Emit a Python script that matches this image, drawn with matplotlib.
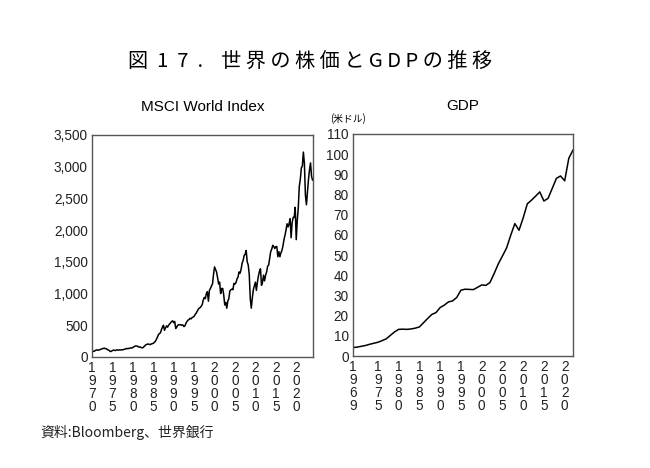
import matplotlib
matplotlib.use("Agg")
import matplotlib.pyplot as plt
import numpy as np

plt.rcParams['font.family'] = ['Liberation Sans', 'Noto Sans CJK JP', 'DejaVu Sans']

# MSCI World Index, quarterly readings from 1970 Q1
msci_start = 1970.0
msci = [
    100, 92, 88, 100,  108, 112, 106, 110,  118, 125, 128, 135,
    140, 132, 130, 118,  110, 100, 85, 90,  100, 110, 105, 102,
    110, 112, 108, 112,  110, 115, 112, 118,  122, 128, 135, 130,
    135, 138, 145, 140,  150, 160, 170, 175,  172, 168, 155, 160,
    150, 145, 148, 165,  180, 195, 200, 205,  200, 195, 205, 210,
    215, 230, 245, 275,  310, 350, 370, 380,  430, 470, 500, 420,
    460, 490, 470, 500,  520, 540, 560, 570,  540, 560, 450, 470,
    500, 510, 505, 510,  500, 505, 480, 490,  530, 560, 580, 590,
    610, 600, 620, 630,  640, 670, 690, 720,  750, 770, 780, 800,
    830, 900, 940, 920,  1000, 1030, 880, 1050,  1080, 1120, 1150, 1300,
    1420, 1380, 1340, 1250,  1150, 1180, 1000, 1080,  1080, 980, 820, 860,
    770, 880, 920, 1040,  1060, 1070, 1060, 1160,  1150, 1170, 1230, 1260,
    1340, 1320, 1380, 1480,  1520, 1600, 1620, 1680,  1500, 1450, 1300, 920,
    770, 930, 1060, 1120,  1180, 1050, 1180, 1280,  1350, 1390, 1130, 1180,
    1290, 1200, 1290, 1340,  1430, 1450, 1560, 1660,  1700, 1760, 1740, 1710,
    1740, 1740, 1580, 1660,  1580, 1640, 1680, 1750,  1850, 1920, 2000, 2100,
    2050, 2100, 2180, 1880,  2120, 2200, 2200, 2360,  1850, 2150, 2350, 2690,
    2800, 2980, 3010, 3230,  3050, 2550, 2400, 2600,  2800, 2950, 3060, 2850,
    2790,
]
msci_ticks = [1970, 1975, 1980, 1985, 1990, 1995, 2000, 2005, 2010, 2015, 2020]

# world GDP (trillion USD), annual
gdp_years = list(range(1969, 2023))
gdp = [
    4.2, 4.4, 4.8, 5.2, 5.8, 6.3, 6.8, 7.6, 8.5, 10.2,
    11.9, 13.2, 13.3, 13.2, 13.4, 13.8, 14.4, 16.5, 18.6, 20.6,
    21.5, 24.0, 25.2, 26.8, 27.3, 29.0, 32.6, 33.1, 33.0, 32.9,
    34.0, 35.2, 35.0, 36.4, 40.8, 45.6, 49.5, 53.5, 59.8, 65.6,
    62.3, 68.4, 75.4, 77.2, 79.2, 81.3, 76.8, 78.1, 83.0, 88.0,
    89.2, 86.8, 98.0, 102.0,
]
gdp_ticks = [1969, 1975, 1980, 1985, 1990, 1995, 2000, 2005, 2010, 2015, 2020]

msci_x = msci_start + np.arange(len(msci)) / 4.0

fig = plt.figure(figsize=(6.5, 4.68), dpi=100)
ax1 = fig.add_axes([0.1415, 0.2372, 0.340, 0.4744])
ax2 = fig.add_axes([0.543, 0.2393, 0.3385, 0.4744])

def vert(y):
    return "\n".join(str(y))

ax1.plot(msci_x, msci, color='black', lw=1.1)
ax1.set_xlim(1970, 2024.1)
ax1.set_ylim(0, 3500)
ax1.set_yticks(range(0, 3501, 500))
ax1.set_yticklabels([f"{v:,}" for v in range(0, 3501, 500)])
ax1.set_xticks(msci_ticks)
ax1.set_xticklabels([vert(y) for y in msci_ticks], linespacing=0.9)
ax1.set_title("MSCI World Index", fontsize=11, pad=17)

ax2.plot(gdp_years, gdp, color='black', lw=1.1)
ax2.set_xlim(1969, 2022)
ax2.set_ylim(0, 110)
ax2.set_yticks(range(0, 111, 10))
ax2.set_xticks(gdp_ticks)
ax2.set_xticklabels([vert(y) for y in gdp_ticks], linespacing=0.9)
ax2.set_title("GDP", fontsize=11, pad=17)
ax2.text(-0.105, 1.045, "(米ドル)", transform=ax2.transAxes, fontsize=7,
         ha='left', va='bottom', family=['Noto Sans CJK JP'])

for ax in (ax1, ax2):
    ax.tick_params(length=0, labelsize=9.8, colors='#222', pad=3)
    for s in ax.spines.values():
        s.set_color('#555')
        s.set_linewidth(1.0)

fig.text(0.477, 0.868, "図  1  7  .    " + " ".join("世界の株価とGDPの推移"),
         ha='center', va='center', fontsize=14.5,
         family=['Noto Sans CJK JP', 'DejaVu Sans'])
fig.text(0.062, 0.075, "資料:Bloomberg、世界銀行", fontsize=10, ha='left', va='center',
         family=['Noto Sans CJK JP', 'DejaVu Sans'], color='#222')

fig.savefig("out.png", dpi=100)
